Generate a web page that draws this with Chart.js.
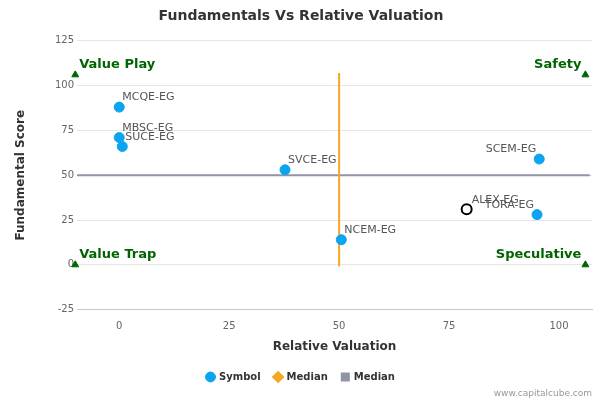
<!DOCTYPE html>
<html><head><meta charset="utf-8">
<script src="https://cdn.jsdelivr.net/npm/chart.js"></script>
<style>body{margin:0;background:#fff}#w{width:600px;height:400px;position:relative}</style>
</head><body><div id="w"><canvas id="c"></canvas></div>
<script>
const symbols=["MCQE-EG","MBSC-EG","SUCE-EG","SVCE-EG","NCEM-EG","SCEM-EG","TORA-EG"];
const relVal=[0,0,0.7,37.7,50.5,95.5,95];
const fundScore=[88,71,66,53,14,59,28];
const highlight={name:"ALEX-EG",x:79,y:31};
const medianV=[{x:50,y:-1},{x:50,y:107}];
const medianH=[{x:-10,y:50},{x:107,y:50}];
const corners=[{x:-10,y:106,t:"Value Play"},{x:106,y:106,t:"Safety"},{x:-10,y:0,t:"Value Trap"},{x:106,y:0,t:"Speculative"}];
const labelPlugin={id:'lbl',afterDatasetsDraw(ch){
 const c=ch.ctx,xs=ch.scales.x,ys=ch.scales.y;c.save();
 c.font='11px "DejaVu Sans"';c.fillStyle='#555';c.textBaseline='bottom';
 symbols.forEach((s,i)=>{let px=xs.getPixelForValue(relVal[i]),py=ys.getPixelForValue(fundScore[i]);
  if(relVal[i]>90){c.textAlign='right';c.fillText(s,px-3,py-4);}else{c.textAlign='left';c.fillText(s,px+3,py-4);}});
 c.textAlign='left';c.fillText(highlight.name,xs.getPixelForValue(highlight.x)+5,ys.getPixelForValue(highlight.y)-4);
 c.font='bold 13px "DejaVu Sans"';c.fillStyle='#006400';
 corners.forEach(k=>{let px=xs.getPixelForValue(k.x),py=ys.getPixelForValue(k.y);
  if(k.x<0){c.textAlign='left';c.fillText(k.t,px+4,py-4);}else{c.textAlign='right';c.fillText(k.t,px-4,py-4);}});
 c.restore();}};
new Chart(document.getElementById('c'),{type:'scatter',
data:{datasets:[
 {label:'Symbol',data:symbols.map((s,i)=>({x:relVal[i],y:fundScore[i]})),backgroundColor:'#0ba4f0',borderColor:'#0ba4f0',pointRadius:5,pointHoverRadius:5,order:1},
 {label:'Median',type:'line',data:medianV,borderColor:'#f5a623',backgroundColor:'#f5a623',borderWidth:2,pointRadius:0,pointStyle:'rectRot',order:2},
 {label:'Median',type:'line',data:medianH,borderColor:'#8f94a8',backgroundColor:'#8f94a8',borderWidth:2,pointRadius:0,pointStyle:'rect',order:3},
 {label:'hl',data:[{x:highlight.x,y:highlight.y}],backgroundColor:'#fff',borderColor:'#000',borderWidth:2,pointRadius:5,order:0},
 {label:'corner',data:corners.map(k=>({x:k.x,y:k.y})),pointStyle:'triangle',backgroundColor:'#006400',borderColor:'#006400',pointRadius:4,order:0,clip:false}
]},
options:{responsive:true,maintainAspectRatio:false,animation:false,
 layout:{padding:{left:10,right:8,top:0,bottom:8}},
 plugins:{title:{display:true,text:'Fundamentals Vs Relative Valuation',font:{family:'DejaVu Sans',size:14,weight:'bold'},color:'#333',padding:{top:8,bottom:16}},
  legend:{position:'bottom',labels:{usePointStyle:true,boxWidth:7,boxHeight:7,padding:14,font:{family:'DejaVu Sans',size:10,weight:'bold'},color:'#333',filter:i=>i.text!=='hl'&&i.text!=='corner'}},
  tooltip:{enabled:false}},
 scales:{
  x:{type:'linear',min:-9.6,max:107.5,afterBuildTicks:a=>{a.ticks=[0,25,50,75,100].map(v=>({value:v}))},
   title:{display:true,text:'Relative Valuation',font:{family:'DejaVu Sans',size:12,weight:'bold'},color:'#333'},
   grid:{display:false},border:{color:'#c0c8d0'},ticks:{font:{family:'DejaVu Sans',size:10},color:'#666'}},
  y:{min:-25,max:125,afterFit:a=>{a.width=67},ticks:{stepSize:25,font:{family:'DejaVu Sans',size:10},color:'#666'},
   title:{display:true,text:'Fundamental Score',font:{family:'DejaVu Sans',size:12,weight:'bold'},color:'#333'},
   grid:{color:'#e6e6e6',drawTicks:false},border:{display:false}}}},
plugins:[labelPlugin,{id:'wm',afterDraw(ch){const c=ch.ctx;c.save();c.font='9px "DejaVu Sans"';c.fillStyle='#999';c.textAlign='right';c.fillText('www.capitalcube.com',592,394);c.restore();}}]
});
</script></body></html>
